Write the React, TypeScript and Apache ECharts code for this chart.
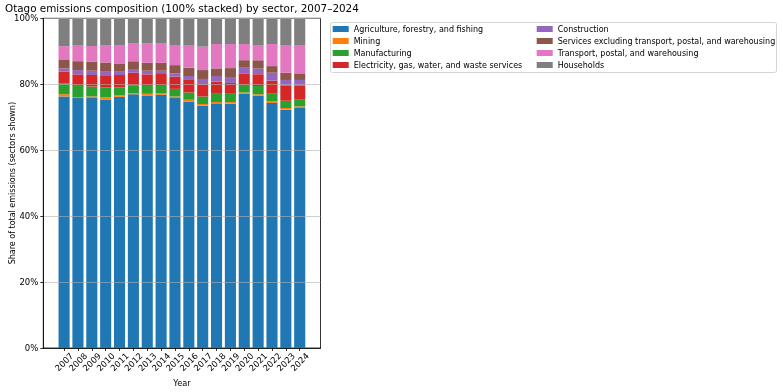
import React, { useEffect, useRef } from "react";
import * as echarts from "echarts";

const years = ["2007","2008","2009","2010","2011","2012","2013","2014","2015","2016","2017","2018","2019","2020","2021","2022","2023","2024"];

const seriesNames = [
  "Agriculture, forestry, and fishing",
  "Mining",
  "Manufacturing",
  "Electricity, gas, water, and waste services",
  "Construction",
  "Services excluding transport, postal, and warehousing",
  "Transport, postal, and warehousing",
  "Households",
];

const agriculture = [76.3,75.8,75.8,75.4,76.2,77.0,76.6,76.8,75.8,74.8,73.5,74.0,74.1,77.1,76.5,74.3,72.3,72.8];
const mining = [0.7,0.3,0.5,0.6,0.4,0.3,0.5,0.4,0.5,0.5,0.5,0.6,0.5,0.4,0.5,0.5,0.5,0.5];
const manufacturing = [3.3,3.4,3.0,3.0,2.4,2.3,2.4,2.3,2.3,2.2,2.3,2.5,2.5,2.3,2.5,2.5,2.2,2.0];
const electricity = [3.5,3.5,3.5,3.5,3.8,3.9,3.5,3.6,3.7,3.8,3.7,3.7,3.3,3.5,3.5,3.8,4.5,4.2];
const construction = [1.0,1.3,1.3,1.5,1.0,1.1,1.1,1.0,1.0,1.2,1.6,1.7,1.8,1.7,1.8,2.4,1.8,1.8];
const services = [2.55,2.7,2.7,2.6,2.5,2.4,2.4,2.4,2.5,2.5,2.7,2.3,2.7,2.3,2.5,2.0,2.2,2.0];
const transport = [4.2,4.9,4.8,5.1,5.6,5.5,6.0,6.0,6.1,6.7,7.1,7.4,7.3,4.9,4.6,6.7,8.4,8.4];
const households = [8.45,8.1,8.4,8.3,8.1,7.5,7.5,7.5,8.1,8.3,8.6,7.8,7.8,7.8,8.1,7.8,8.1,8.3];

const yTicks = [0, 20, 40, 60, 80, 100];

const seriesValues = [agriculture, mining, manufacturing, electricity, construction, services, transport, households];
const colors = ["#1f77b4","#ff7f0e","#2ca02c","#d62728","#9467bd","#8c564b","#e377c2","#7f7f7f"];

const FONT = "DejaVu Sans";

export default function App() {
  const ref = useRef<HTMLDivElement>(null);
  useEffect(() => {
    if (!ref.current) return;
    const chart = echarts.init(ref.current, null, { renderer: "svg" });
    const cats = [" ", ...years, "  "];
    const plotLeft = 43.3;
    const plotRight = 320.5;
    const plotTop = 18.3;
    const plotBottom = 350;
    const legendItem = {
      orient: "vertical",
      top: 23.5,
      padding: 0,
      itemWidth: 16,
      itemHeight: 6,
      itemGap: 1,
      icon: "rect",
      textStyle: { fontFamily: FONT, fontSize: 8, color: "#000", lineHeight: 11 },
      selectedMode: false,
    };
    chart.setOption({
      animation: false,
      textStyle: { fontFamily: FONT },
      title: {
        text: "Otago emissions composition (100% stacked) by sector, 2007–2024",
        left: (plotLeft + plotRight) / 2,
        textAlign: "center",
        top: 3,
        padding: 0,
        textStyle: { fontFamily: FONT, fontSize: 10.4, fontWeight: "normal", color: "#000" },
      },
      legend: [
        { ...legendItem, left: 332.7, data: seriesNames.slice(0, 4) },
        { ...legendItem, left: 536.7, data: seriesNames.slice(4) },
      ],
      graphic: [
        {
          type: "rect",
          shape: { x: 330.5, y: 22.5, width: 446, height: 50, r: 2 },
          style: { fill: "rgba(255,255,255,0.8)", stroke: "#d5d5d5", lineWidth: 1 },
          z: -1,
        },
      ],
      grid: {
        left: plotLeft,
        top: plotTop,
        width: plotRight - plotLeft,
        height: plotBottom - plotTop,
        show: true,
        borderColor: "#000",
        borderWidth: 0.8,
        backgroundColor: "transparent",
      },
      xAxis: {
        type: "category",
        data: cats,
        z: 10,
        name: "Year",
        nameLocation: "middle",
        nameGap: 31,
        nameMoveOverlap: false,
        nameTextStyle: { fontFamily: FONT, fontSize: 8.2, color: "#000" },
        axisLine: { show: true, lineStyle: { color: "#000", width: 0.8 } },
        axisTick: {
          show: true,
          alignWithLabel: true,
          length: 3,
          lineStyle: { color: "#000", width: 0.8 },
          interval: (index: number) => index >= 1 && index <= years.length,
        },
        axisLabel: {
          interval: (index: number) => index >= 1 && index <= years.length,
          rotate: 45,
          align: "center",
          verticalAlign: "middle",
          margin: 14,
          fontFamily: FONT,
          fontSize: 8.5,
          color: "#000",
        },
        splitLine: { show: false },
      },
      yAxis: {
        type: "value",
        min: 0,
        max: 100,
        interval: 20,
        z: 10,
        name: "Share of total emissions (sectors shown)",
        nameLocation: "middle",
        nameGap: 26.5,
        nameMoveOverlap: false,
        nameTextStyle: { fontFamily: FONT, fontSize: 8, color: "#000" },
        axisLine: { show: true, lineStyle: { color: "#000", width: 0.8 } },
        axisTick: { show: true, length: 3, lineStyle: { color: "#000", width: 0.8 } },
        axisLabel: {
          formatter: (v: number) => (yTicks.includes(v) ? `${v}%` : ""),
          margin: 5,
          fontFamily: FONT,
          fontSize: 8.5,
          color: "#000",
        },
        splitLine: { show: true, lineStyle: { color: "rgba(176,176,176,0.6)", width: 1 } },
      },
      series: seriesNames.map((name, i) => ({
        name,
        type: "bar",
        stack: "total",
        barWidth: "80%",
        itemStyle: { color: colors[i] },
        emphasis: { disabled: true },
        data: [null, ...seriesValues[i], null],
      })),
    });
    return () => chart.dispose();
  }, []);
  return <div ref={ref} style={{ position: "fixed", left: 0, top: 0, width: 782, height: 392 }} />;
}
